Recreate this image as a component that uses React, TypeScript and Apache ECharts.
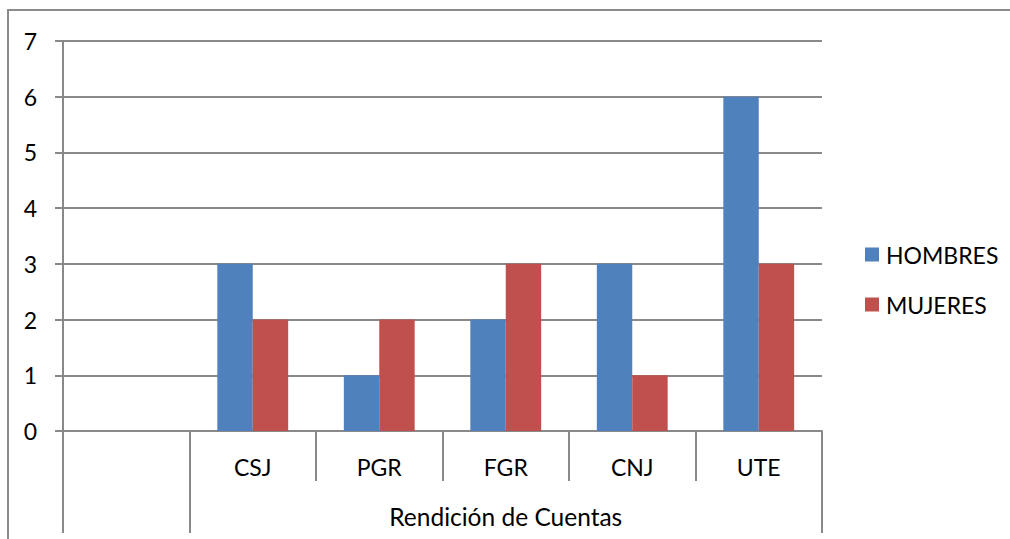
import React, { useEffect, useRef } from "react";
import * as echarts from "echarts";

const categories = ["", "CSJ", "PGR", "FGR", "CNJ", "UTE"];
const groupLabel = "Rendición de Cuentas";
const hombres = [null, 3, 1, 2, 3, 6];
const mujeres = [null, 2, 2, 3, 1, 3];
const seriesNames = ["HOMBRES", "MUJERES"];

const FONT = "Lato";
const FS = 23;
const AXIS_COLOR = "#898989";

export default function App() {
  const ref = useRef<HTMLDivElement>(null);
  useEffect(() => {
    const chart = echarts.init(ref.current!, null, { renderer: "svg" });
    chart.setOption({
      animation: false,
      textStyle: { fontFamily: FONT },
      graphic: [
        {
          type: "rect",
          shape: { x: 8, y: 10, width: 1200, height: 700 },
          style: { fill: "none", stroke: "#8c8c8c", lineWidth: 2 },
          silent: true,
        },
      ],
      grid: { left: 63, top: 41, right: 188, bottom: 108 },
      legend: {
        orient: "vertical",
        left: 865,
        top: 243,
        padding: 0,
        itemWidth: 14,
        itemHeight: 14,
        itemGap: 27,
        icon: "rect",
        textStyle: { fontFamily: FONT, fontSize: FS, color: "#000", padding: [0, 0, 0, 2] },
        data: seriesNames,
      },
      xAxis: [
        {
          type: "category",
          data: categories,
          position: "bottom",
          axisLine: { show: true, lineStyle: { color: AXIS_COLOR, width: 2 } },
          axisTick: { show: true, length: 50, lineStyle: { color: AXIS_COLOR, width: 2 } },
          axisLabel: { fontFamily: FONT, fontSize: FS, color: "#000", margin: 24 },
          splitLine: { show: false },
        },
        {
          type: "value",
          min: 0,
          max: 6,
          position: "bottom",
          axisLine: { show: false },
          axisTick: {
            show: true,
            length: 102,
            customValues: [0, 1, 6],
            lineStyle: { color: AXIS_COLOR, width: 2 },
          },
          axisLabel: {
            show: true,
            customValues: [3.5],
            formatter: () => groupLabel,
            fontFamily: FONT,
            fontSize: 24.5,
            color: "#000",
            margin: 73,
          },
          splitLine: { show: false },
        },
      ],
      yAxis: {
        type: "value",
        min: 0,
        max: 7,
        interval: 1,
        axisLine: { show: true, lineStyle: { color: AXIS_COLOR, width: 2 } },
        axisTick: { show: true, length: 8, lineStyle: { color: AXIS_COLOR, width: 2 } },
        axisLabel: { fontFamily: FONT, fontSize: FS, color: "#000", margin: 26 },
        splitLine: { show: true, lineStyle: { color: AXIS_COLOR, width: 2 } },
      },
      series: [
        {
          name: seriesNames[0],
          type: "bar",
          data: hombres,
          itemStyle: { color: "#4f81bd" },
          barGap: "0%",
          barCategoryGap: "44%",
        },
        {
          name: seriesNames[1],
          type: "bar",
          data: mujeres,
          itemStyle: { color: "#c0504d" },
          barGap: "0%",
          barCategoryGap: "44%",
        },
      ],
    });
    return () => chart.dispose();
  }, []);
  return (
    <div
      ref={ref}
      style={{ position: "fixed", left: 0, top: 0, width: 1010, height: 539, background: "#fff" }}
    />
  );
}
